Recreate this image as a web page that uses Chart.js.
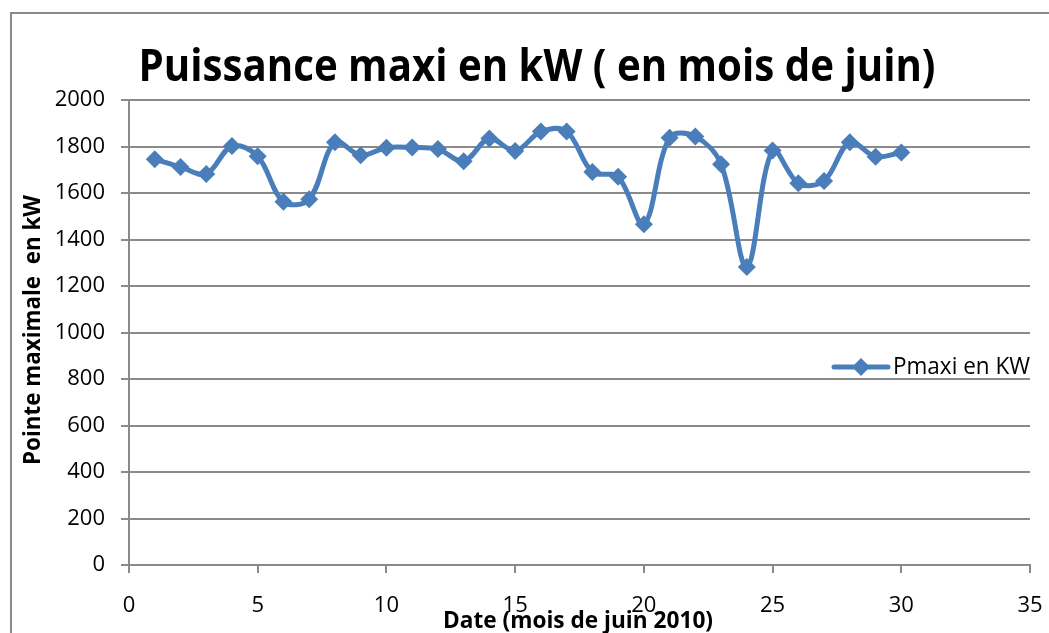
<!DOCTYPE html>
<html>
<head>
<meta charset="utf-8">
<script src="https://cdn.jsdelivr.net/npm/chart.js@4.4.1/dist/chart.umd.min.js"></script>
<style>
  html, body { margin: 0; padding: 0; background: #fff; }
  #wrap { position: relative; width: 1049px; height: 633px; overflow: hidden; }
  #frame { position: absolute; left: 10px; top: 12px; width: 1100px; height: 700px;
           border-left: 2px solid #8a8a8a; border-top: 2px solid #8a8a8a; }
  canvas { position: absolute; left: 0; top: 0; }
</style>
</head>
<body>
<div id="wrap">
  <div id="frame"></div>
  <canvas id="chart" width="1049" height="633"></canvas>
</div>
<script>
// data
const days = [1, 2, 3, 4, 5, 6, 7, 8, 9, 10, 11, 12, 13, 14, 15,
              16, 17, 18, 19, 20, 21, 22, 23, 24, 25, 26, 27, 28, 29, 30];
const pmaxi = [1745, 1712, 1682, 1802, 1758, 1562, 1573, 1818, 1762, 1795, 1796, 1789, 1737, 1834, 1781,
               1864, 1865, 1690, 1670, 1466, 1838, 1843, 1724, 1282, 1783, 1642, 1652, 1818, 1756, 1774];
const xMin = 0, xMax = 35, xStep = 5;
const yMin = 0, yMax = 2000, yStep = 200;

const seriesLabel = 'Pmaxi en KW';
const titleText = 'Puissance maxi en kW ( en mois de juin)';
const xTitle = 'Date (mois de juin 2010)';
const yTitle = 'Pointe maximale  en kW';

const blue = '#4a7ebb';
const gridGrey = '#8a8a8a';
const tickFont = { family: "'Open Sans', sans-serif", size: 22 };

// draws text squeezed/stretched to a given width
function fitText(ctx, text, x, y, width, font, rotate) {
    ctx.save();
    ctx.font = font;
    const w = ctx.measureText(text).width;
    ctx.translate(x, y);
    if (rotate) ctx.rotate(-Math.PI / 2);
    ctx.scale(width / w, 1);
    ctx.textAlign = 'center';
    ctx.textBaseline = 'alphabetic';
    ctx.fillStyle = '#000';
    ctx.fillText(text, 0, 0);
    ctx.restore();
}

const decorPlugin = {
    id: 'decor',
    afterDraw(chart) {
        const ctx = chart.ctx;
        fitText(ctx, titleText, 537, 81, 797, "bold 45px 'Open Sans'");
        fitText(ctx, xTitle, 578, 628, 270, "bold 23px 'Open Sans'");
        fitText(ctx, yTitle, 40, 330, 270, "bold 23px 'Open Sans'", true);

        // legend
        const ly = 367;
        ctx.save();
        ctx.strokeStyle = blue;
        ctx.lineWidth = 5;
        ctx.lineCap = 'round';
        ctx.beginPath();
        ctx.moveTo(834, ly);
        ctx.lineTo(888, ly);
        ctx.stroke();
        ctx.fillStyle = blue;
        ctx.beginPath();
        ctx.moveTo(861, ly - 9);
        ctx.lineTo(870, ly);
        ctx.lineTo(861, ly + 9);
        ctx.lineTo(852, ly);
        ctx.closePath();
        ctx.fill();
        ctx.fillStyle = '#000';
        ctx.textBaseline = 'middle';
        ctx.textAlign = 'left';
        ctx.font = "23px 'Open Sans'";
        const tw = ctx.measureText(seriesLabel).width;
        ctx.translate(893, ly);
        ctx.scale(137 / tw, 1);
        ctx.fillText(seriesLabel, 0, 0);
        ctx.restore();
    }
};

new Chart(document.getElementById('chart'), {
    type: 'line',
    data: {
        datasets: [{
            label: seriesLabel,
            data: days.map((d, i) => ({ x: d, y: pmaxi[i] })),
            borderColor: blue,
            backgroundColor: blue,
            borderWidth: 5,
            tension: 0.35,
            pointStyle: 'rectRot',
            pointRadius: 9,
            pointBorderWidth: 0,
            pointBackgroundColor: blue
        }]
    },
    options: {
        responsive: false,
        animation: false,
        layout: { padding: { left: 0, top: 100, right: 19, bottom: 0 } },
        plugins: { legend: { display: false }, title: { display: false }, tooltip: { enabled: false } },
        scales: {
            x: {
                type: 'linear', min: xMin, max: xMax,
                ticks: { stepSize: xStep, color: '#000', font: tickFont, padding: 20, maxRotation: 0 },
                grid: { drawOnChartArea: false, drawTicks: true, tickLength: 8, color: gridGrey, lineWidth: 2 },
                border: { color: gridGrey, width: 2 },
                afterFit(scale) { scale.height = 68; scale.paddingLeft = 0; scale.paddingRight = 0; }
            },
            y: {
                min: yMin, max: yMax,
                ticks: { stepSize: yStep, color: '#000', font: tickFont, padding: 16, callback: v => String(v) },
                grid: { color: gridGrey, lineWidth: 2, tickLength: 8 },
                border: { color: gridGrey, width: 2 },
                afterFit(scale) { scale.width = 129; scale.paddingTop = 0; scale.paddingBottom = 0; }
            }
        }
    },
    plugins: [decorPlugin]
});
</script>
</body>
</html>
